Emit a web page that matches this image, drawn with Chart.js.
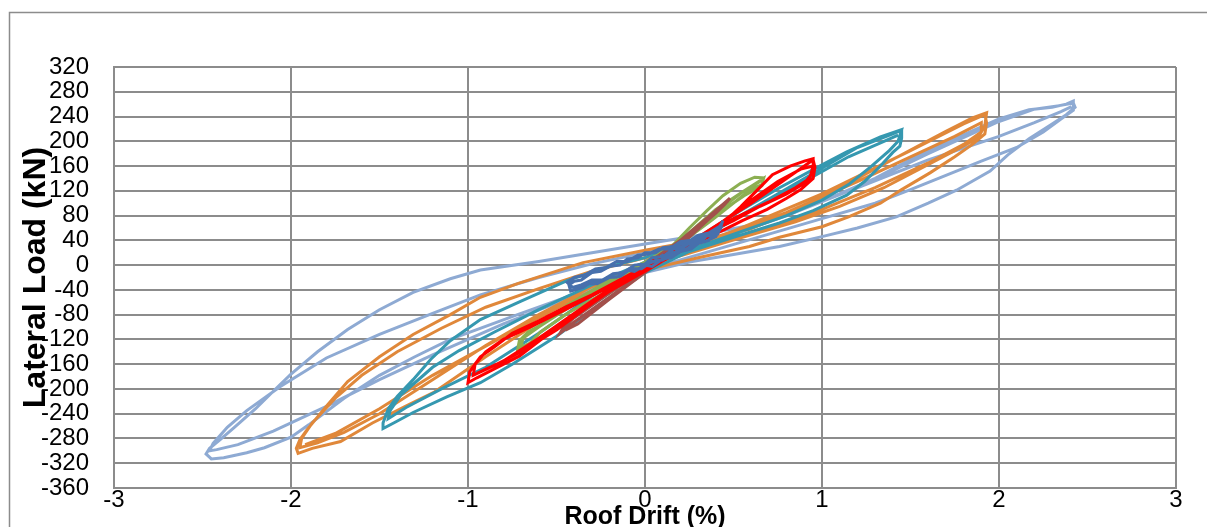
<!DOCTYPE html>
<html>
<head>
<meta charset="utf-8">
<script src="https://cdn.jsdelivr.net/npm/chart.js@4.4.1/dist/chart.umd.min.js"></script>
<style>
  html, body { margin: 0; padding: 0; background: #fff; }
  #wrap { width: 1207px; height: 527px; position: relative; }
</style>
</head>
<body>
<div id="wrap"><canvas id="hysteresis"></canvas></div>
<script>
// axis ticks
const driftTicks = [-3, -2, -1, 0, 1, 2, 3];
const loadTicks = [-360, -320, -280, -240, -200, -160, -120, -80, -40, 0, 40, 80, 120, 160, 200, 240, 280, 320];

const stageLightBlue = [
  [0, 10], [0.4, 40], [0.8, 80], [1.2, 125], [1.6, 180], [2.0, 232], [2.2, 252], [2.35, 258], [2.42, 262],
  [2.43, 255], [2.38, 243], [2.3, 228], [2.17, 204], [2.05, 178], [1.95, 152], [1.76, 121], [1.6, 100], [1.42, 78],
  [1.2, 60], [1.0, 46], [0.76, 30], [0.5, 17], [0.25, 5], [0, -12], [-0.35, -42], [-0.72, -80], [-1.1, -120],
  [-1.3, -148], [-1.5, -178], [-1.7, -215], [-1.9, -258], [-2.0, -278], [-2.15, -295], [-2.25, -303], [-2.38, -311],
  [-2.45, -313], [-2.48, -305],
  [-2.46, -296], [-2.4, -282], [-2.32, -262], [-2.2, -232], [-2.08, -198], [-2.0, -176], [-1.85, -140], [-1.68, -104],
  [-1.5, -72], [-1.31, -44], [-1.1, -22], [-0.93, -8], [-0.6, 6], [-0.3, 20], [0, 34], [0.3, 48], [0.59, 64],
  [0.8, 82], [1.0, 103], [1.3, 140], [1.51, 172], [1.7, 198], [1.89, 222], [2.0, 236], [2.17, 251], [2.3, 255],
  [2.38, 260], [2.42, 265],
  [2.42, 250], [2.35, 236], [2.25, 215], [2.1, 190], [1.9, 168], [1.7, 145], [1.5, 122], [1.3, 100], [1.0, 75],
  [0.7, 50], [0.4, 25], [0, -8], [-0.4, -50], [-0.8, -95], [-1.2, -145], [-1.5, -185], [-1.8, -228], [-2.1, -268],
  [-2.3, -290], [-2.42, -298], [-2.46, -300],
  [-2.44, -288], [-2.36, -262], [-2.25, -235], [-2.06, -196], [-1.8, -150], [-1.5, -112], [-1.2, -78], [-0.93, -48],
  [-0.6, -20], [-0.3, 2], [0, 20], [0.4, 45], [0.8, 82], [1.2, 125], [1.6, 170], [2.0, 208], [2.2, 230],
  [2.35, 248], [2.41, 256]
];
const stageOrange = [
  [0, 5], [0.5, 55], [1.0, 115], [1.5, 185], [1.8, 228], [1.92, 243],
  [1.93, 230], [1.92, 212], [1.85, 195], [1.75, 175], [1.61, 149], [1.45, 122], [1.33, 100], [1.15, 78], [1.0, 62],
  [0.76, 45], [0.59, 30], [0.3, 12], [0, -8], [-0.3, -45], [-0.6, -92], [-0.9, -148], [-1.19, -205], [-1.34, -226],
  [-1.54, -255], [-1.72, -285], [-1.88, -296], [-1.96, -304],
  [-1.97, -296], [-1.95, -282], [-1.91, -266], [-1.8, -228], [-1.68, -188], [-1.5, -148], [-1.31, -112], [-1.1, -80],
  [-0.93, -52], [-0.72, -30], [-0.35, 4], [0, 24], [0.3, 40], [0.59, 58], [0.9, 95], [1.2, 140], [1.5, 186],
  [1.7, 216], [1.85, 238], [1.93, 246],
  [1.92, 225], [1.88, 205], [1.75, 185], [1.55, 155], [1.35, 125], [1.1, 95], [0.85, 70], [0.55, 45], [0.2, 15],
  [0, 0], [-0.3, -35], [-0.6, -80], [-0.9, -130], [-1.2, -185], [-1.5, -240], [-1.7, -270], [-1.85, -287], [-1.95, -295],
  [-1.94, -280], [-1.88, -255], [-1.75, -215], [-1.6, -178], [-1.4, -140], [-1.15, -102], [-0.9, -68], [-0.6, -38],
  [-0.3, -10], [0, 12], [0.4, 42], [0.8, 85], [1.2, 135], [1.5, 175], [1.75, 208], [1.9, 230],
  [1.9, 215], [1.8, 195], [1.6, 165], [1.3, 125], [1.0, 90], [0.7, 60], [0.35, 30], [0, -2], [-0.4, -55],
  [-0.8, -115], [-1.2, -178], [-1.5, -232], [-1.75, -272], [-1.92, -290]
];
const stageTeal = [
  [0, 5], [0.3, 40], [0.6, 90], [0.9, 140], [1.2, 190], [1.4, 212], [1.45, 218],
  [1.45, 205], [1.44, 192], [1.4, 182], [1.33, 160], [1.24, 135], [1.14, 113], [0.95, 88], [0.76, 68], [0.5, 45],
  [0.25, 22], [0, -12], [-0.25, -62], [-0.5, -115], [-0.75, -160], [-0.93, -190], [-1.12, -213], [-1.31, -238],
  [-1.42, -255], [-1.48, -264],
  [-1.48, -255], [-1.45, -232], [-1.4, -212], [-1.31, -185], [-1.21, -152], [-1.1, -122], [-0.93, -88], [-0.7, -58],
  [-0.44, -25], [-0.2, -2], [0, 12], [0.3, 45], [0.55, 90], [0.76, 125], [1.0, 162], [1.14, 183], [1.33, 207], [1.45, 219],
  [1.43, 200], [1.38, 185], [1.28, 160], [1.15, 130], [1.0, 105], [0.8, 80], [0.55, 55], [0.3, 30], [0, 0],
  [-0.3, -50], [-0.6, -110], [-0.9, -165], [-1.15, -200], [-1.35, -230], [-1.45, -248],
  [-1.44, -235], [-1.38, -210], [-1.3, -190], [-1.2, -165], [-1.05, -138], [-0.85, -108], [-0.6, -72], [-0.3, -32],
  [0, 5], [0.3, 40], [0.6, 90], [0.9, 135], [1.15, 175], [1.35, 200], [1.43, 210]
];
const stageRed = [
  [0, 0], [0.3, 45], [0.6, 100], [0.85, 150], [0.95, 170],
  [0.96, 158], [0.95, 140], [0.88, 122], [0.8, 108], [0.69, 90], [0.55, 72], [0.44, 56], [0.3, 38], [0.15, 15],
  [0, -10], [-0.2, -42], [-0.4, -80], [-0.55, -112], [-0.71, -147], [-0.84, -166], [-0.95, -182], [-1.0, -190],
  [-0.99, -172], [-0.96, -160], [-0.93, -148], [-0.85, -132], [-0.75, -110], [-0.6, -90], [-0.45, -68], [-0.3, -48],
  [-0.15, -25], [0, -2], [0.2, 25], [0.35, 52], [0.44, 68], [0.54, 94], [0.63, 120], [0.72, 146], [0.82, 160],
  [0.9, 168], [0.95, 172],
  [0.95, 150], [0.9, 132], [0.8, 115], [0.65, 95], [0.5, 72], [0.3, 45], [0.1, 12], [-0.1, -22], [-0.3, -62],
  [-0.5, -105], [-0.7, -140], [-0.85, -162], [-0.97, -178],
  [-0.96, -160], [-0.9, -140], [-0.8, -120], [-0.65, -100], [-0.45, -72], [-0.25, -42], [0, -5], [0.2, 28],
  [0.4, 62], [0.6, 105], [0.75, 135], [0.88, 155], [0.95, 160],
  [0.93, 140], [0.85, 125], [0.7, 102], [0.5, 75], [0.3, 45], [0, 0], [-0.3, -58], [-0.6, -118], [-0.8, -155], [-0.95, -175]
];
const stageGreen = [
  [0, 0], [0.2, 35], [0.4, 85], [0.55, 118], [0.67, 140],
  [0.66, 130], [0.59, 121], [0.5, 100], [0.38, 73], [0.2, 35], [0, -5], [-0.2, -40], [-0.44, -78], [-0.59, -108],
  [-0.69, -138], [-0.72, -137],
  [-0.71, -122], [-0.66, -108], [-0.58, -95], [-0.44, -65], [-0.2, -24], [0, 5], [0.15, 30], [0.25, 60], [0.35, 88],
  [0.44, 112], [0.54, 132], [0.62, 142], [0.67, 141],
  [0.66, 128], [0.56, 112], [0.42, 85], [0.25, 48], [0.05, 5], [-0.2, -45], [-0.45, -90], [-0.62, -122], [-0.7, -133],
  [-0.69, -118], [-0.6, -100], [-0.45, -72], [-0.25, -35], [0, 2], [0.2, 40], [0.4, 90], [0.55, 118], [0.65, 135]
];
const stageBrown = [
  [0, 0], [0.2, 40], [0.4, 88], [0.48, 108], [0.45, 98], [0.4, 84], [0.2, 35], [0, -10], [-0.2, -52], [-0.4, -92],
  [-0.48, -110], [-0.46, -100], [-0.4, -85], [-0.2, -45], [0, -5], [0.2, 36], [0.4, 86], [0.47, 104], [0.42, 90],
  [0.2, 32], [0, -12], [-0.2, -55], [-0.38, -95], [-0.45, -105]
];
const stageDarkBlue = [
  [0, 0], [0.05, 6], [0.1, 16], [0.14, 13], [0.2, 28], [0.24, 25], [0.28, 38], [0.33, 42], [0.36, 50], [0.4, 54],
  [0.42, 62], [0.41, 50], [0.38, 46], [0.36, 40], [0.3, 35], [0.26, 26], [0.2, 22], [0.15, 12], [0.1, 10], [0.04, -2],
  [0, 0], [-0.06, -10], [-0.1, -8], [-0.16, -20], [-0.2, -18], [-0.26, -28], [-0.3, -27], [-0.35, -36], [-0.42, -42],
  [-0.43, -32], [-0.4, -26], [-0.36, -24], [-0.3, -12], [-0.25, -10], [-0.2, -2], [-0.14, 0], [-0.1, 10], [-0.04, 12],
  [0, 20], [0.06, 20], [0.1, 28], [0.16, 30], [0.2, 38], [0.26, 40], [0.3, 48], [0.36, 52], [0.43, 64], [0.44, 72],
  [0.42, 58], [0.38, 52], [0.33, 44], [0.28, 40], [0.22, 30], [0.16, 26], [0.1, 14], [0.04, 12], [0, 2], [-0.06, 0],
  [-0.12, -12], [-0.18, -14], [-0.24, -24], [-0.3, -24], [-0.36, -32], [-0.41, -36], [-0.44, -28], [-0.4, -20],
  [-0.34, -16], [-0.28, -6], [-0.22, -4], [-0.16, 6], [-0.1, 6], [-0.04, 16], [0.02, 18], [0.08, 26], [0.14, 26],
  [0.2, 34], [0.26, 36], [0.32, 46], [0.38, 48], [0.42, 56], [0.4, 46], [0.34, 38], [0.28, 34], [0.22, 24],
  [0.16, 20], [0.1, 8], [0.04, 6], [-0.02, -6], [-0.08, -6], [-0.14, -18], [-0.2, -20], [-0.27, -30], [-0.33, -30],
  [-0.4, -40]
];

// listed top layer first: Chart.js paints dataset 0 last
const stages = [
  { data: stageDarkBlue, color: '#4770ad' },
  { data: stageRed, color: '#ff0000' },
  { data: stageBrown, color: '#a2504b' },
  { data: stageGreen, color: '#8caf52' },
  { data: stageTeal, color: '#3598b0' },
  { data: stageOrange, color: '#e0883a' },
  { data: stageLightBlue, color: '#8eaad3' }
];

// thin frame round the whole chart object
const frame = {
  id: 'frame',
  beforeDraw(chart) {
    const c = chart.ctx;
    c.save();
    c.strokeStyle = '#8c8c8c';
    c.lineWidth = 1.5;
    c.strokeRect(9.5, 12.5, 1400, 600);
    c.restore();
  }
};

const tickFont = { family: 'Liberation Sans', size: 24, lineHeight: 1 };

new Chart(document.getElementById('hysteresis'), {
  type: 'scatter',
  data: {
    datasets: stages.map(s => ({
      data: s.data.map(p => ({ x: p[0], y: p[1] })),
      showLine: true,
      borderColor: s.color,
      backgroundColor: s.color,
      borderWidth: 3,
      pointRadius: 0,
      tension: 0
    }))
  },
  options: {
    responsive: true,
    maintainAspectRatio: false,
    animation: false,
    layout: { padding: { top: 67, right: 31, left: 0, bottom: 0 } },
    plugins: { legend: { display: false }, tooltip: { enabled: false } },
    scales: {
      x: {
        type: 'linear',
        min: driftTicks[0],
        max: driftTicks[driftTicks.length - 1],
        afterBuildTicks: axis => { axis.ticks = driftTicks.map(v => ({ value: v })); },
        afterFit: axis => { axis.height = 39; },
        grid: { color: '#8c8c8c', lineWidth: 2, drawTicks: false },
        border: { color: '#8c8c8c', width: 2 },
        ticks: { font: tickFont, color: '#000', padding: 0, maxRotation: 0, autoSkip: false },
        title: {
          display: true, text: 'Roof Drift (%)', color: '#000',
          font: { family: 'Liberation Sans', size: 25, weight: 'bold' },
          padding: { top: 0, bottom: -5 }
        }
      },
      y: {
        type: 'linear',
        min: loadTicks[0],
        max: loadTicks[loadTicks.length - 1],
        afterBuildTicks: axis => { axis.ticks = loadTicks.map(v => ({ value: v })); },
        afterFit: axis => { axis.width = 114; },
        grid: { color: '#8c8c8c', lineWidth: 2, drawTicks: false },
        border: { color: '#8c8c8c', width: 2 },
        ticks: { font: tickFont, color: '#000', padding: 25, autoSkip: false },
        title: {
          display: true, text: 'Lateral Load (kN)', color: '#000',
          font: { family: 'Liberation Sans', size: 32, weight: 'bold' },
          padding: { top: 17, bottom: 0 }
        }
      }
    }
  },
  plugins: [frame]
});
</script>
</body>
</html>
